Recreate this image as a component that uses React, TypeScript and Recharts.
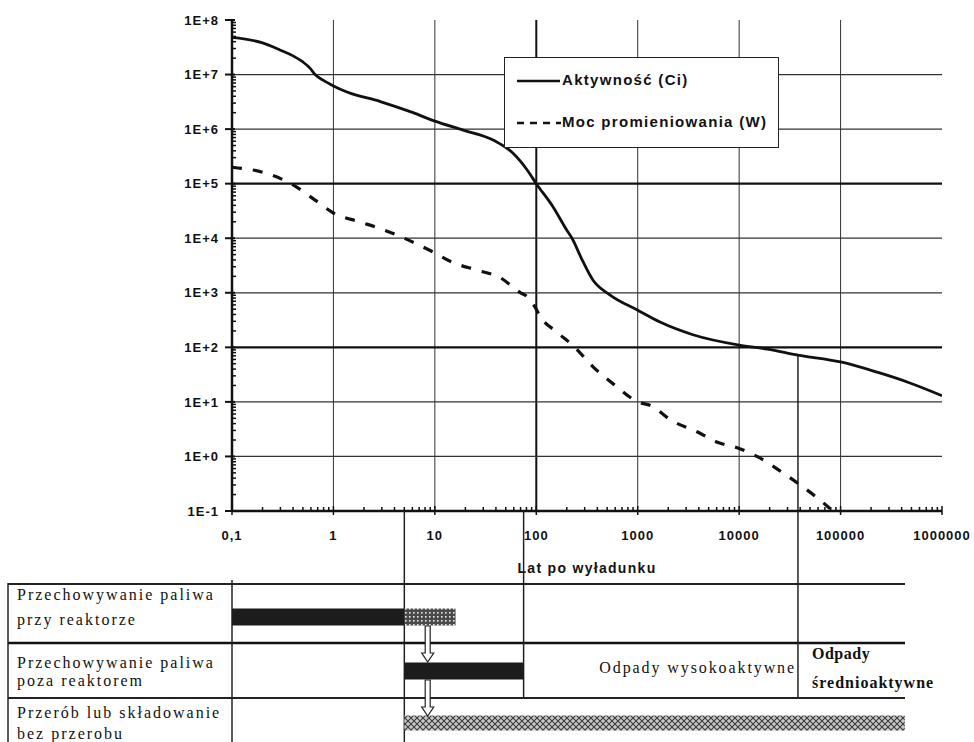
import React from 'react';
import { LineChart, Line, XAxis, YAxis, ReferenceLine, ReferenceDot, Legend } from 'recharts';

// ---------- chart data ----------
const activityYears = [0.1, 0.2, 0.3, 0.4, 0.5, 0.59, 0.66, 0.79, 1, 1.36, 2.9, 6.1, 10, 19, 37.5, 59, 81, 100, 147, 200, 225, 280, 363, 535, 1000, 1660, 3500, 10000, 19000, 38000, 100000, 230000, 490000, 1000000];
const activityCi = [4.8e7, 3.8e7, 2.8e7, 2.2e7, 1.7e7, 1.3e7, 1e7, 7.9e6, 6.2e6, 4.8e6, 3.2e6, 2e6, 1.4e6, 9.6e5, 6.3e5, 3.6e5, 1.8e5, 1e5, 3.7e4, 1.4e4, 1e4, 4.2e3, 1.7e3, 910, 480, 290, 170, 110, 93, 72, 54, 35, 22, 13];

const powerYears = [0.1, 0.23, 0.4, 0.66, 1, 1.8, 2.9, 4.7, 9.6, 15, 26, 44, 70, 78, 97, 110, 160, 240, 363, 600, 1000, 1370, 2100, 3900, 6200, 10000, 15000, 27000, 40000, 60000, 79000];
const powerW = [2e5, 1.5e5, 9.5e4, 5e4, 2.9e4, 2e4, 1.5e4, 1.05e4, 5.6e3, 3.6e3, 2.6e3, 1.9e3, 1e3, 900, 550, 360, 190, 100, 44, 20, 10, 8.4, 4.7, 2.8, 1.8, 1.4, 1.0, 0.5, 0.3, 0.17, 0.11];

const seriesNames = ['Aktywność (Ci)', 'Moc promieniowania (W)'];
const xAxisTitle = 'Lat po wyładunku';

const xMajorTicks = [0.1, 1, 10, 100, 1000, 10000, 100000, 1000000];
const xTickLabels = ['0,1', '1', '10', '100', '1000', '10000', '100000', '1000000'];
const yMajorTicks = [0.1, 1, 10, 100, 1e3, 1e4, 1e5, 1e6, 1e7, 1e8];
const yTickLabels = ['1E-1', '1E+0', '1E+1', '1E+2', '1E+3', '1E+4', '1E+5', '1E+6', '1E+7', '1E+8'];

// ---------- table (stages) data ----------
const stageLabels = [
  ['Przechowywanie paliwa', 'przy reaktorze'],
  ['Przechowywanie paliwa', 'poza reaktorem'],
  ['Przerób lub składowanie', 'bez przerobu'],
];
const solidBarRanges: (number[] | null)[] = [[0.1, 5], [5, 75], null];
const hatchBarRanges: (number[] | null)[] = [[5, 16], null, [5, 430000]];
const transferYear = 8.5;
const stageBoundaryYears = [5, 75, 38000];
const highLevelLabel = 'Odpady wysokoaktywne';
const mediumLevelLabel = ['Odpady', 'średnioaktywne'];

// ---------- helpers ----------
const minorOf = (majors: number[]) => {
  const out: number[] = [];
  for (let i = 0; i < majors.length - 1; i++) {
    for (let k = 2; k <= 9; k++) out.push(majors[i] * k);
  }
  return out;
};
const xAllTicks = [...xMajorTicks, ...minorOf(xMajorTicks)].sort((a, b) => a - b);
const yAllTicks = [...yMajorTicks, ...minorOf(yMajorTicks)].sort((a, b) => a - b);

const activityData = activityYears.map((x, i) => ({ x, v: activityCi[i] }));
const powerData = powerYears.map((x, i) => ({ x, v: powerW[i] }));

const SANS = "'Liberation Sans', Arial, sans-serif";
const SERIF = "'Liberation Serif', 'Times New Roman', serif";

const XTick = (p: any) => {
  const v = p.payload.value;
  const i = xMajorTicks.indexOf(v);
  if (i < 0) {
    return <line x1={p.x} x2={p.x} y1={p.y} y2={p.y - 4} stroke="#111" strokeWidth={1.5} />;
  }
  return (
    <g>
      <line x1={p.x} x2={p.x} y1={p.y - 5} y2={p.y + 4} stroke="#111" strokeWidth={1.5} />
      <text x={p.x} y={p.y + 29} textAnchor="middle" fontFamily={SANS} fontWeight="bold" fontSize={13} letterSpacing={1} fill="#111">
        {xTickLabels[i]}
      </text>
    </g>
  );
};

const YTick = (p: any) => {
  const v = p.payload.value;
  const i = yMajorTicks.indexOf(v);
  if (i < 0) {
    return <line x1={p.x} x2={p.x + 4} y1={p.y} y2={p.y} stroke="#111" strokeWidth={1.5} />;
  }
  return (
    <g>
      <line x1={p.x - 7} x2={p.x + 3} y1={p.y} y2={p.y} stroke="#111" strokeWidth={2} />
      <text x={p.x - 13} y={p.y} dy="0.36em" textAnchor="end" fontFamily={SANS} fontWeight="bold" fontSize={13} letterSpacing={1} fill="#111">
        {yTickLabels[i]}
      </text>
    </g>
  );
};

const AxisTitle = (props: any) => {
  const vb = props.viewBox || {};
  return (
    <text x={vb.x + vb.width / 2} y={vb.y + 62} textAnchor="middle" fontFamily={SANS} fontWeight="bold" fontSize={14} letterSpacing={1.3} fill="#111">
      {xAxisTitle}
    </text>
  );
};

const LegendBox = () => (
  <div style={{ width: 275, height: 91, boxSizing: 'border-box', border: '1.5px solid #222', background: '#fff', position: 'relative', fontFamily: SANS, fontWeight: 'bold', fontSize: 15, letterSpacing: 1.3, color: '#111' }}>
    <svg width={60} height={91} style={{ position: 'absolute', left: 0, top: 0 }}>
      <line x1={12} x2={55} y1={23} y2={23} stroke="#111" strokeWidth={2.5} />
      <line x1={12} x2={56} y1={65} y2={65} stroke="#111" strokeWidth={2.5} strokeDasharray="7 6" />
    </svg>
    <div style={{ position: 'absolute', left: 57, top: 13, whiteSpace: 'nowrap' }}>{seriesNames[0]}</div>
    <div style={{ position: 'absolute', left: 57, top: 55, whiteSpace: 'nowrap' }}>{seriesNames[1]}</div>
  </div>
);

const Arrow = (p: any) => {
  const x = p.cx;
  const y = p.cy;
  const len = 36;
  const head = 9;
  const path = `M ${x - 2.5} ${y} L ${x + 2.5} ${y} L ${x + 2.5} ${y + len - head} L ${x + 6} ${y + len - head} L ${x} ${y + len} L ${x - 6} ${y + len - head} L ${x - 2.5} ${y + len - head} Z`;
  return <path d={path} fill="#fff" stroke="#222" strokeWidth={1.2} />;
};

// table layout (pixels of the lower panel, measured from the x axis line)
const BOTTOM_H = 231;
const barCenters = [106, 160, 212];
const barThick = [17, 17, 15];
const boundaryEnds = [BOTTOM_H, 187, 188];
const arrowTops = [115, 169];

export default function App() {
  const gridX = xMajorTicks.slice(1, -1);
  const gridY = yMajorTicks.slice(1, -1);
  const boldGridX = [100];
  const boldGridY = [1e5, 1e2];

  return (
    <div style={{ position: 'absolute', left: 0, top: 0, width: 974, height: 742, background: '#fff', overflow: 'hidden' }}>
      {/* table frame and texts */}
      <svg width={974} height={742} style={{ position: 'absolute', left: 0, top: 0 }}>
        <line x1={8} x2={905} y1={584} y2={584} stroke="#222" strokeWidth={2} />
        <line x1={8} x2={905} y1={643} y2={643} stroke="#111" strokeWidth={2.5} />
        <line x1={8} x2={905} y1={698} y2={698} stroke="#222" strokeWidth={2} />
        <line x1={8} x2={8} y1={583} y2={742} stroke="#222" strokeWidth={1.5} />
        <line x1={232} x2={232} y1={580} y2={742} stroke="#222" strokeWidth={1.5} />
        {stageLabels.map((lines, r) => (
          <g key={r} fontFamily={SERIF} fontSize={16} letterSpacing={2} fill="#111">
            <text x={17} y={[600, 668, 718][r]}>{lines[0]}</text>
            <text x={17} y={[625, 686, 739][r]}>{lines[1]}</text>
          </g>
        ))}
        <text x={796} y={673} textAnchor="end" fontFamily={SERIF} fontSize={16} letterSpacing={1.9} fill="#111">{highLevelLabel}</text>
        <text x={812} y={659} fontFamily={SERIF} fontSize={16} fontWeight="bold" letterSpacing={0.5} fill="#111">{mediumLevelLabel[0]}</text>
        <text x={812} y={688} fontFamily={SERIF} fontSize={16} fontWeight="bold" letterSpacing={1} fill="#111">{mediumLevelLabel[1]}</text>
      </svg>

      {/* main chart */}
      <div style={{ position: 'absolute', left: 0, top: 0 }}>
        <LineChart width={974} height={590} margin={{ top: 20, right: 32, left: 0, bottom: 0 }}>
          <XAxis
            type="number"
            dataKey="x"
            scale="log"
            domain={[0.1, 1e6]}
            ticks={xAllTicks}
            interval={0}
            tickSize={0}
            tickMargin={0}
            tickLine={false}
            tick={XTick}
            axisLine={{ stroke: '#111', strokeWidth: 2.5 }}
            height={79}
            allowDataOverflow
            label={{ content: AxisTitle }}
          />
          <YAxis
            type="number"
            scale="log"
            domain={[0.1, 1e8]}
            ticks={yAllTicks}
            interval={0}
            tickSize={0}
            tickMargin={0}
            tickLine={false}
            tick={YTick}
            axisLine={{ stroke: '#111', strokeWidth: 2.5 }}
            width={232}
            allowDataOverflow
          />
          {gridX.map((v) => (
            <ReferenceLine key={'gx' + v} x={v} stroke={boldGridX.includes(v) ? '#111' : '#333'} strokeWidth={boldGridX.includes(v) ? 2 : 1} />
          ))}
          {gridY.map((v) => (
            <ReferenceLine key={'gy' + v} y={v} stroke={boldGridY.includes(v) ? '#111' : '#333'} strokeWidth={boldGridY.includes(v) ? 2.2 : 1.2} />
          ))}
          <ReferenceLine
            segment={[{ x: stageBoundaryYears[2], y: 0.1 }, { x: stageBoundaryYears[2], y: activityCi[activityYears.indexOf(38000)] }]}
            stroke="#222"
            strokeWidth={1.5}
          />
          <Line data={activityData} dataKey="v" name={seriesNames[0]} type="monotone" stroke="#111" strokeWidth={2.8} dot={false} isAnimationActive={false} />
          <Line data={powerData} dataKey="v" name={seriesNames[1]} type="monotone" stroke="#111" strokeWidth={3.2} strokeDasharray="10 11" dot={false} isAnimationActive={false} />
          <Legend layout="vertical" align="center" verticalAlign="middle" content={LegendBox} wrapperStyle={{ left: 504, top: 57, width: 275, height: 91 }} />
        </LineChart>
      </div>

      {/* stage table bars */}
      <div style={{ position: 'absolute', left: 0, top: 511 }}>
        <LineChart width={974} height={BOTTOM_H} margin={{ top: 0, right: 32, left: 232, bottom: 0 }}>
          <defs>
            <pattern id="dotsPat" width="4" height="4" patternUnits="userSpaceOnUse">
              <rect width="4" height="4" fill="#4a4a4a" />
              <rect x="1" y="1" width="1.6" height="1.6" fill="#e8e8e8" />
            </pattern>
            <pattern id="crossPat" width="6" height="6" patternUnits="userSpaceOnUse">
              <rect width="6" height="6" fill="#c9c9c9" />
              <path d="M0 0 L6 6 M6 0 L0 6" stroke="#3a3a3a" strokeWidth="1.1" />
            </pattern>
          </defs>
          <XAxis type="number" dataKey="x" scale="log" domain={[0.1, 1e6]} hide allowDataOverflow />
          <YAxis type="number" domain={[0, BOTTOM_H]} reversed hide allowDataOverflow />
          {stageBoundaryYears.map((yr, i) => (
            <ReferenceLine key={'b' + i} segment={[{ x: yr, y: 0 }, { x: yr, y: boundaryEnds[i] }]} stroke="#222" strokeWidth={1.5} />
          ))}
          {solidBarRanges.map((r, i) =>
            r ? (
              <Line key={'s' + i} data={[{ x: r[0], y: barCenters[i] }, { x: r[1], y: barCenters[i] }]} dataKey="y" type="linear" stroke="#1c1c1c" strokeWidth={barThick[i]} dot={false} isAnimationActive={false} />
            ) : null
          )}
          {hatchBarRanges.map((r, i) =>
            r ? (
              <Line key={'h' + i} data={[{ x: r[0], y: barCenters[i] }, { x: r[1], y: barCenters[i] }]} dataKey="y" type="linear" stroke={i === 0 ? 'url(#dotsPat)' : 'url(#crossPat)'} strokeWidth={barThick[i]} dot={false} isAnimationActive={false} />
            ) : null
          )}
          {arrowTops.map((t, i) => (
            <ReferenceDot key={'a' + i} x={transferYear} y={t} r={0} shape={Arrow} ifOverflow="visible" />
          ))}
        </LineChart>
      </div>
    </div>
  );
}
